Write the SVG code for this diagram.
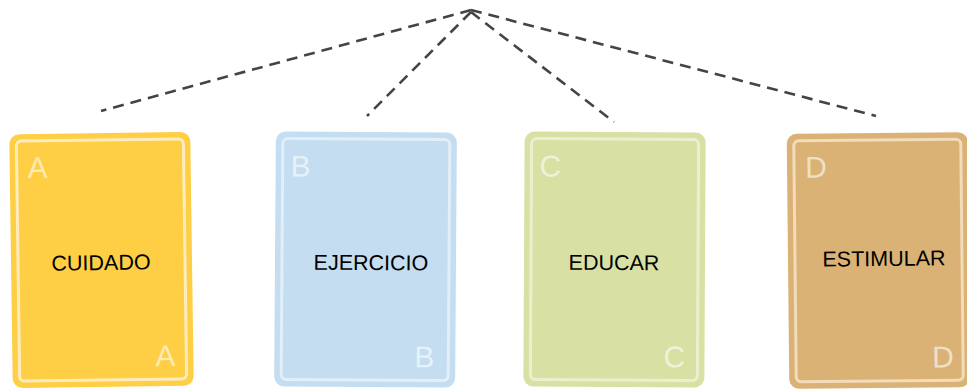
<svg xmlns="http://www.w3.org/2000/svg" width="967" height="390" viewBox="0 0 967 390">
<style>
.outer{stroke:none}
.inner{fill:none;stroke-width:3;stroke-opacity:0.8}
.corner{font-family:"Liberation Sans",Arial,sans-serif;font-size:30px;fill:#ffffff;fill-opacity:0.6}
.label{font-family:"Liberation Sans",Arial,sans-serif;font-size:21.5px;fill:#000;text-anchor:middle}
.conn{stroke:#444;stroke-width:2.6;stroke-dasharray:11 7;fill:none}
</style>
<rect width="967" height="390" fill="#fff"/>
<g id="connectors">
<line class="conn" x1="471" y1="10" x2="101" y2="111"/>
<line class="conn" x1="471" y1="12" x2="367" y2="116"/>
<line class="conn" x1="471" y1="12" x2="614" y2="122"/>
<line class="conn" x1="471" y1="10" x2="876" y2="116"/>
</g>
<g id="cardA" transform="rotate(-0.8 101 260)">
<rect class="outer" x="11" y="133" width="181" height="254" rx="10" fill="#fece45"/>
<rect class="inner" x="18" y="140" width="167" height="240" rx="5" stroke="#fff4dc"/>
<text class="corner" x="29" y="177">A</text>
<text class="corner" x="154" y="367">A</text>
<text class="label" x="101" y="270">CUIDADO</text>
</g>
<g id="cardB" transform="rotate(0.4 366 260)">
<rect class="outer" x="275" y="132" width="181" height="255" rx="10" fill="#c5ddf0"/>
<rect class="inner" x="282" y="139" width="167" height="241" rx="5" stroke="#e9f3fa"/>
<text class="corner" x="290" y="177">B</text>
<text class="corner" x="415" y="367">B</text>
<text class="label" x="371" y="270">EJERCICIO</text>
</g>
<g id="cardC" transform="rotate(0.3 614 260)">
<rect class="outer" x="524" y="132" width="181" height="255" rx="10" fill="#d9e0a3"/>
<rect class="inner" x="531" y="139" width="167" height="241" rx="5" stroke="#f0f3da"/>
<text class="corner" x="539" y="177">C</text>
<text class="corner" x="664" y="367">C</text>
<text class="label" x="614" y="270">EDUCAR</text>
</g>
<g id="cardD" transform="rotate(-0.6 878 260)">
<rect class="outer" x="788" y="133" width="181" height="255" rx="10" fill="#dbb276"/>
<rect class="inner" x="795" y="140" width="167" height="241" rx="5" stroke="#f7e6cb"/>
<text class="corner" x="806" y="177">D</text>
<text class="corner" x="931" y="368">D</text>
<text class="label" x="884" y="266">ESTIMULAR</text>
</g>
</svg>
